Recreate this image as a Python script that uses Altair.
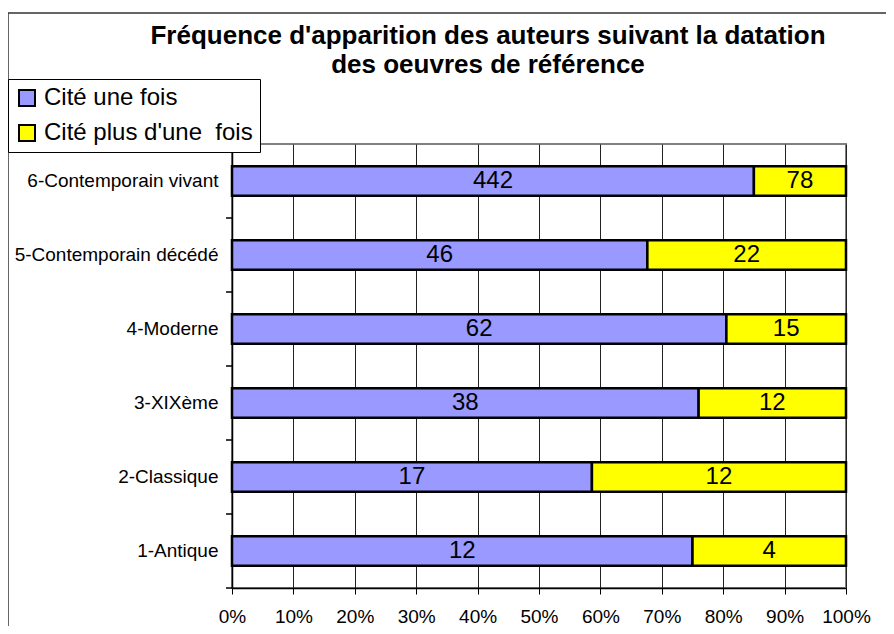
import altair as alt
import pandas as pd

categories = ["1-Antique", "2-Classique", "3-XIXème", "4-Moderne",
              "5-Contemporain décédé", "6-Contemporain vivant"]
cite_une_fois = [12, 17, 38, 62, 46, 442]
cite_plus = [4, 12, 12, 15, 22, 78]
series = ["Cité une fois", "Cité plus d'une\u00a0 fois"]
colors = ["#9999FF", "#FFFF00"]
x_ticks = [0, 0.1, 0.2, 0.3, 0.4, 0.5, 0.6, 0.7, 0.8, 0.9, 1.0]
title_lines = ["Fréquence d'apparition des auteurs suivant la datation",
               "des oeuvres de référence"]

rows = []
for c, a, b in zip(categories, cite_une_fois, cite_plus):
    rows.append({"cat": c, "serie": series[0], "ord": 0, "n": a})
    rows.append({"cat": c, "serie": series[1], "ord": 1, "n": b})
df = pd.DataFrame(rows)

FONT = "Liberation Sans"
W, H = 614, 444
y_sort = list(reversed(categories))

base = alt.Chart(df).transform_stack(
    stack="n", groupby=["cat"], as_=["x0", "x1"], offset="normalize",
    sort=[alt.SortField("ord", order="ascending")]
).transform_calculate(mid="(datum.x0 + datum.x1) / 2")

yenc = alt.Y("cat:N", sort=y_sort,
             scale=alt.Scale(paddingInner=0.6, paddingOuter=0.3),
             axis=alt.Axis(title=None, ticks=False, labelFontSize=19, labelFont=FONT,
                           labelColor="black", labelPadding=14, domainColor="black",
                           domainWidth=1.5, labelLimit=300))

bars = base.mark_bar(stroke="black", strokeWidth=2.5).encode(
    x=alt.X("x0:Q", scale=alt.Scale(domain=[0, 1], nice=False),
            axis=alt.Axis(title=None, format="%", values=x_ticks, grid=True,
                          gridColor="#222222", gridWidth=1, tickColor="black",
                          tickSize=6, domainColor="black", domainWidth=1.5,
                          labelFontSize=19, labelFont=FONT, labelColor="black",
                          labelPadding=13, labelOverlap=False, labelFlush=False,
                          labelBound=False)),
    x2="x1:Q",
    y=yenc,
    color=alt.Color("serie:N", scale=alt.Scale(domain=series, range=colors),
                    legend=alt.Legend(title=None, orient="none", legendX=-224, legendY=-65,
                                      direction="vertical", symbolType="square",
                                      symbolSize=256, symbolStrokeColor="black",
                                      symbolStrokeWidth=2, labelFontSize=24,
                                      labelFont=FONT, labelColor="black",
                                      strokeColor="black", fillColor="white",
                                      padding=7, rowPadding=11, labelOffset=5,
                                      labelLimit=400)),
    order=alt.Order("ord:Q"),
)

labels = base.mark_text(fontSize=24, font=FONT, color="black", baseline="middle").encode(
    x=alt.X("mid:Q"),
    y=alt.Y("cat:N", sort=y_sort),
    text=alt.Text("n:Q"),
)

yticks = alt.Chart(df).mark_rule(color="black", strokeWidth=1, yOffset=22.2).encode(
    y=alt.Y("cat:N", sort=y_sort, bandPosition=1),
    x=alt.value(-6), x2=alt.value(0),
)

frame = alt.Chart(alt.Data(values=[{}])).mark_rect(
    fill=None, stroke="#333333", strokeWidth=1.5
).encode(x=alt.value(-224), x2=alt.value(700), y=alt.value(-131), y2=alt.value(520))

t1 = alt.Chart(alt.Data(values=[{"t": title_lines[0]}])).mark_text(
    fontSize=26, font=FONT, fontWeight="bold", color="black", align="center",
    baseline="alphabetic").encode(text="t:N", x=alt.value(256), y=alt.value(-100))
t2 = alt.Chart(alt.Data(values=[{"t": title_lines[1]}])).mark_text(
    fontSize=26, font=FONT, fontWeight="bold", color="black", align="center",
    baseline="alphabetic").encode(text="t:N", x=alt.value(256), y=alt.value(-71))

chart = alt.layer(frame, bars, labels, yticks, t1, t2).properties(
    width=W, height=H,
    autosize=alt.AutoSizeParams(type="none"),
    padding={"left": 224, "top": 136, "right": 40, "bottom": 38},
).configure_view(stroke="#808080", strokeWidth=2)

chart.save("out.html", embed_options={"renderer": "svg", "actions": False})
